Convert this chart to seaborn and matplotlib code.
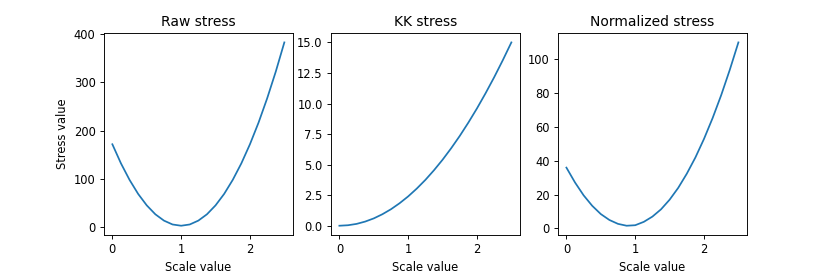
"""
Stress vs scale for the three stress variants.
"""
import numpy as np
import pandas as pd
import matplotlib
matplotlib.use('Agg')
import matplotlib.pyplot as plt
import seaborn as sns

# values
scale = [0, 0.125, 0.25, 0.375, 0.5, 0.625, 0.75, 0.875, 1.0, 1.125, 1.25,
         1.375, 1.5, 1.625, 1.75, 1.875, 2.0, 2.125, 2.25, 2.375, 2.5]
raw_stress = [172, 132.4, 98.2, 69.1, 45.4, 26.9, 13.8, 5.8, 3.2, 5.8, 13.8,
              26.9, 45.4, 69.1, 98.2, 132.4, 172, 216.8, 267, 322.3, 383]
kk_stress = [0, 0.04, 0.15, 0.34, 0.6, 0.94, 1.35, 1.84, 2.4, 3.04, 3.75,
             4.54, 5.4, 6.34, 7.35, 8.44, 9.6, 10.84, 12.15, 13.54, 15.0]
norm_stress = [36, 27.2, 19.6, 13.4, 8.5, 5.0, 2.7, 1.6, 1.9, 3.9, 7.0,
               11.3, 17.0, 24.0, 32.4, 42.0, 53.0, 65.3, 78.9, 93.9, 110.1]
titles = ['Raw stress', 'KK stress', 'Normalized stress']
x_ticks = [0, 1, 2]
y_ticks = [[0, 100, 200, 300, 400],
           [0.0, 2.5, 5.0, 7.5, 10.0, 12.5, 15.0],
           [0, 20, 40, 60, 80, 100]]

df = pd.DataFrame({'scale': scale, 'Raw stress': raw_stress,
                   'KK stress': kk_stress, 'Normalized stress': norm_stress})

fig, axes = plt.subplots(1, 3, figsize=(10, 277 / 83), dpi=83)
fig.subplots_adjust(left=0.125, right=0.9, top=0.88, bottom=0.152, wspace=0.2)

for ax, name, yt in zip(axes, titles, y_ticks):
    sns.lineplot(data=df, x='scale', y=name, ax=ax, color='#1f77b4', lw=1.5)
    ax.set_title(name)
    ax.set_xlabel('Scale value')
    ax.set_ylabel('')
    ax.set_xticks(x_ticks)
    ax.set_yticks(yt)
axes[1].set_yticklabels(['%.1f' % v for v in y_ticks[1]])
axes[0].set_ylabel('Stress value')

plt.savefig('out.png', dpi=83)
